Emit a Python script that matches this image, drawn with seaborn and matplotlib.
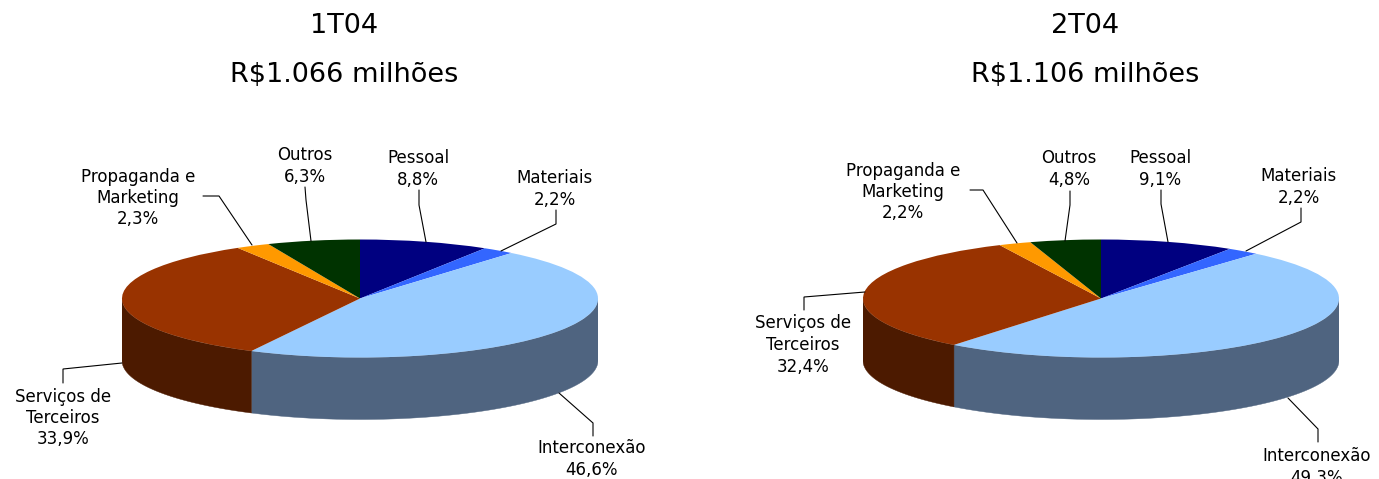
import numpy as np
import matplotlib
matplotlib.use("Agg")
import matplotlib.pyplot as plt
import seaborn as sns

categories = ["Pessoal", "Materiais", "Interconexão", "Serviços de\nTerceiros", "Propaganda e\nMarketing", "Outros"]
values_1t04 = [8.8, 2.2, 46.6, 33.9, 2.3, 6.3]
values_2t04 = [9.1, 2.2, 49.3, 32.4, 2.2, 4.8]
titles_1t04 = ["1T04", "R$1.066 milhões"]
titles_2t04 = ["2T04", "R$1.106 milhões"]
top_colors = ["#000080", "#3366FF", "#99CCFF", "#993300", "#FF9900", "#003300"]
side_colors = ["#000040", "#1A3380", "#4F6480", "#4C1A00", "#805000", "#001A00"]

W, H = 1379, 479
sns.set_theme(style="white", rc={"figure.facecolor": "white", "axes.facecolor": "none"})
plt.rcParams["font.family"] = ["DejaVu Sans"]
palette = sns.color_palette(top_colors)
side_palette = sns.color_palette(side_colors)
fig = plt.figure(figsize=(W / 100, H / 100), dpi=100)

TOP, RY, DEPTH = 239.5, 59.0, 62.0


def draw_pie(values, cx, rx):
    ax = fig.add_axes([(cx - rx) / W, 1 - (TOP + 2 * RY + DEPTH) / H, 2 * rx / W, (2 * RY + DEPTH) / H])
    depth = DEPTH / RY
    fractions = np.cumsum([0] + list(values)) / np.sum(values) * 2 * np.pi
    for a, b, c in zip(fractions[:-1], fractions[1:], side_palette):
        lo, hi = max(a, np.pi / 2), min(b, 3 * np.pi / 2)
        if hi <= lo:
            continue
        t = np.linspace(lo, hi, 200)
        xs, ys = np.sin(t), np.cos(t)
        ax.fill(np.r_[xs, xs[::-1]], np.r_[ys, ys[::-1] - depth], color=c, lw=0.3)
    ax.pie(values, colors=palette, startangle=90, counterclock=False, radius=1,
           wedgeprops={"linewidth": 0})
    ax.set_aspect("auto")
    ax.set_xlim(-1, 1)
    ax.set_ylim(-1 - depth, 1)
    ax.axis("off")


draw_pie(values_1t04, 360, 238)
draw_pie(values_2t04, 1101, 238)

ov = fig.add_axes([0, 0, 1, 1], zorder=5)
ov.set_xlim(0, W)
ov.set_ylim(H, 0)
ov.axis("off")

FS = 12
for title, cx in ((titles_1t04, 344.5), (titles_2t04, 1085)):
    ov.text(cx, 26, title[0], ha="center", va="center", fontsize=19.5, color="black")
    ov.text(cx, 75, title[1], ha="center", va="center", fontsize=19.5, color="black")

# x, y (centre of label), leader polyline
layout_1 = [
    (418, 169, [(419, 190), (419, 205), (426, 242)]),
    (555, 189, [(556, 210), (556, 224), (501, 251)]),
    (592, 459, [(593, 436), (593, 423), (559, 393)]),
    (63, 418, [(63, 383), (63, 369), (122, 363)]),
    (138, 198, [(203, 196), (219, 196), (252, 245)]),
    (305, 166, [(305, 187), (306, 200), (311, 241)]),
]
layout_2 = [
    (1160, 169, [(1161, 190), (1161, 204), (1168, 242)]),
    (1299, 187, [(1301, 208), (1301, 222), (1246, 251)]),
    (1317, 467, [(1318, 442), (1318, 429), (1288, 398)]),
    (803, 345, [(804, 310), (804, 297), (865, 292)]),
    (903, 192, [(970, 190), (983, 190), (1017, 243)]),
    (1069, 169, [(1070, 191), (1070, 205), (1065, 241)]),
]


def fmt(v):
    return f"{v:.1f}".replace(".", ",") + "%"


for values, layout in ((values_1t04, layout_1), (values_2t04, layout_2)):
    for name, v, (x, y, leader) in zip(categories, values, layout):
        ov.text(x, y, f"{name}\n{fmt(v)}", ha="center", va="center", fontsize=FS,
                linespacing=1.25, color="black", clip_on=False)
        ov.plot(*zip(*leader), color="black", lw=0.8, solid_joinstyle="miter")

fig.savefig("out.png", dpi=100, facecolor="white")
